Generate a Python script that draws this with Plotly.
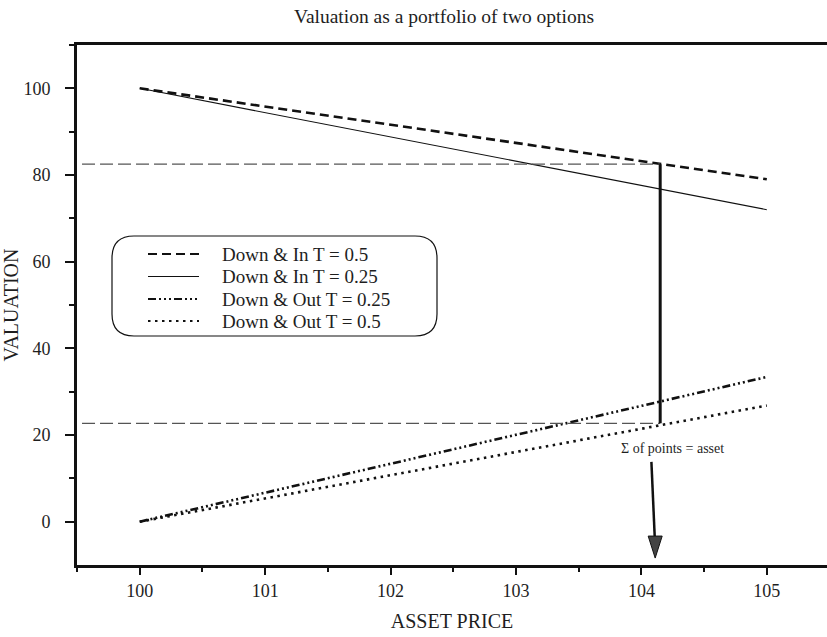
import plotly.graph_objects as go

# ---------------- data ----------------
asset_price = [100, 105]
down_in_t05 = [100.0, 79.0]
down_in_t025 = [100.0, 72.0]
down_out_t025 = [0.0, 33.4]
down_out_t05 = [0.0, 26.8]

series_names = ["Down &amp; In T = 0.5", "Down &amp; In T = 0.25",
                "Down &amp; Out T = 0.25", "Down &amp; Out T = 0.5"]

marker_price = 104.15
upper_level = 82.5
lower_level = 22.7
guide_start = 99.54

arrow_tail = (104.08, 13.8)
arrow_tip = (104.11, -8.4)
note_pos = (104.25, 17.0)
note_text = "Σ of points = asset"

x_ticks = [100, 101, 102, 103, 104, 105]
y_ticks = [0, 20, 40, 60, 80, 100]
y_minor_ticks = [10, 30, 50, 70, 90, 110]

title_text = "Valuation as a portfolio of two options"
x_title = "ASSET PRICE"
y_title = "VALUATION"

# ---------------- styles ----------------
FONT = "Liberation Serif, Times New Roman, serif"
INK = "#111111"
TXT = "#1e1e1e"
W, H = 827, 637
ML, MR, MT, MB = 77, 0, 45, 72
PW, PH = W - ML - MR, H - MT - MB
X_RANGE = [99.5, 105.48]
Y_RANGE = [-10, 110]

styles = [
    dict(color=INK, width=2.6, dash="9px,5px"),
    dict(color=INK, width=1.1, dash="solid"),
    dict(color=INK, width=2.6, dash="8px,3px,2px,3px,2px,3px,2px,3px"),
    dict(color=INK, width=2.6, dash="2.5px,4.5px"),
]
series = [down_in_t05, down_in_t025, down_out_t025, down_out_t05]


def px_x(px):
    return (px - ML) / PW


def px_y(py):
    return (H - MB - py) / PH


def data_dx(px):
    return px * (X_RANGE[1] - X_RANGE[0]) / PW


def data_dy(px):
    return px * (Y_RANGE[1] - Y_RANGE[0]) / PH


fig = go.Figure()

for name, ys, st in zip(series_names, series, styles):
    fig.add_trace(go.Scatter(x=asset_price, y=ys, mode="lines", name=name,
                             line=st, showlegend=False, hoverinfo="skip"))

guide_style = dict(color="#555555", width=1.2, dash="13px,5px")
fig.add_trace(go.Scatter(x=[guide_start, marker_price], y=[upper_level, upper_level],
                         mode="lines", line=guide_style, showlegend=False, hoverinfo="skip"))
fig.add_trace(go.Scatter(x=[guide_start, marker_price], y=[lower_level, lower_level],
                         mode="lines", line=guide_style, showlegend=False, hoverinfo="skip"))
fig.add_trace(go.Scatter(x=[marker_price, marker_price], y=[lower_level, upper_level],
                         mode="lines", line=dict(color=INK, width=3), showlegend=False,
                         hoverinfo="skip"))

shapes = []
annotations = []

# arrow (shaft + head)
head_len = data_dy(22)
head_half = data_dx(7)
tip_x, tip_y = arrow_tip
base_y = tip_y + head_len
shapes.append(dict(type="line", xref="x", yref="y", x0=arrow_tail[0], y0=arrow_tail[1],
                   x1=tip_x - data_dx(0.5), y1=base_y, line=dict(color=INK, width=2.5)))
shapes.append(dict(type="path", xref="x", yref="y",
                   path=f"M {tip_x - head_half},{base_y} L {tip_x + head_half},{base_y} "
                        f"L {tip_x},{tip_y} Z",
                   fillcolor="#444444", line=dict(color=INK, width=1)))
annotations.append(dict(x=note_pos[0], y=note_pos[1], xref="x", yref="y", text=note_text,
                        showarrow=False, font=dict(family=FONT, size=14, color=TXT)))

# legend: rounded box
L, R, T, B, r = 112, 437, 236, 336, 22
pts = [
    ("M", (L + r, T)), ("L", (R - r, T)), ("Q", (R, T), (R, T + r)),
    ("L", (R, B - r)), ("Q", (R, B), (R - r, B)), ("L", (L + r, B)),
    ("Q", (L, B), (L, B - r)), ("L", (L, T + r)), ("Q", (L, T), (L + r, T)),
]
path = ""
for p in pts:
    cmd = p[0]
    coords = " ".join(f"{px_x(a)},{px_y(b)}" for a, b in p[1:])
    path += f"{cmd} {coords} "
path += "Z"
shapes.append(dict(type="path", xref="paper", yref="paper", path=path,
                   line=dict(color=INK, width=1.2), fillcolor="rgba(0,0,0,0)"))

row_y = [254, 276.5, 299, 321]
for name, st, ry in zip(series_names, styles, row_y):
    lw = 1.1 if st["dash"] == "solid" else 2.0
    shapes.append(dict(type="line", xref="paper", yref="paper",
                       x0=px_x(148), x1=px_x(199), y0=px_y(ry), y1=px_y(ry),
                       line=dict(color=INK, width=lw, dash=st["dash"])))
    annotations.append(dict(x=px_x(220), y=px_y(ry), xref="paper", yref="paper",
                            text=name, showarrow=False, xanchor="left", yanchor="middle",
                            font=dict(family=FONT, size=19, color=TXT)))

fig.update_layout(
    width=W, height=H,
    margin=dict(l=ML, r=MR, t=MT, b=MB),
    paper_bgcolor="white", plot_bgcolor="white",
    title=dict(text=title_text, x=444 / W, xref="container", xanchor="center",
               y=1 - 16 / H, yref="container", yanchor="middle",
               font=dict(family=FONT, size=19.5, color=TXT)),
    shapes=shapes, annotations=annotations,
    showlegend=False,
    font=dict(family=FONT, color=TXT),
)

fig.update_xaxes(
    range=X_RANGE, tickmode="array", tickvals=x_ticks, ticktext=[str(v) for v in x_ticks],
    ticks="outside", ticklen=7, tickwidth=1.5, tickcolor=INK,
    showline=True, linewidth=3, linecolor=INK, mirror=True,
    showgrid=False, zeroline=False,
    tickfont=dict(family=FONT, size=18, color=TXT), ticklabelstandoff=0,
    minor=dict(tick0=99.5, dtick=0.5, ticks="outside", ticklen=4, tickwidth=1.5,
               tickcolor=INK, showgrid=False),
    title=dict(text=x_title, font=dict(family=FONT, size=20, color=TXT), standoff=15),
    automargin=False,
)
fig.update_yaxes(
    range=Y_RANGE, tickmode="array", tickvals=y_ticks, ticktext=[str(v) for v in y_ticks],
    ticks="outside", ticklen=9, tickwidth=1.5, tickcolor=INK,
    showline=True, linewidth=3, linecolor=INK, mirror=False,
    showgrid=False, zeroline=False,
    tickfont=dict(family=FONT, size=18, color=TXT), ticklabelstandoff=11,
    minor=dict(tickmode="array", tickvals=y_minor_ticks, ticks="outside", ticklen=5,
               tickwidth=1.5, tickcolor=INK, showgrid=False),
    title=dict(text=y_title, font=dict(family=FONT, size=20, color=TXT), standoff=3),
    automargin=False,
)

fig.write_html("out.html", config={"displayModeBar": False},
               post_script="document.body.style.margin='0';")
